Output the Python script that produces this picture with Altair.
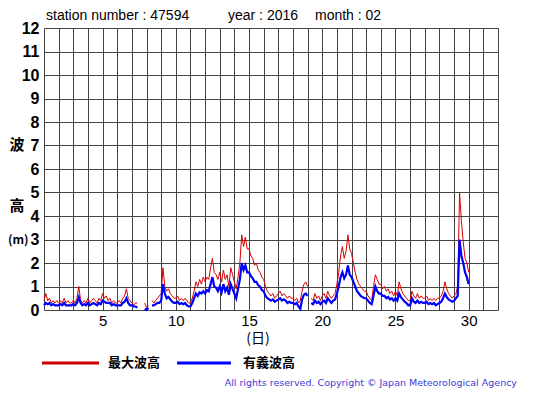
import altair as alt
import pandas as pd
import numpy as np

# 3-hourly readings (0,3,...,21h) per day, day 1..29, then day 30 00h
max_wave = [
    [0.4, 0.7, 0.4, 0.5, 0.3, 0.4, 0.3, 0.4],
    [0.3, 0.4, 0.3, 0.5, 0.3, 0.4, 0.3, 0.3],
    [0.4, 0.3, 0.5, 1.0, 0.4, 0.3, 0.4, 0.3],
    [0.5, 0.3, 0.4, 0.5, 0.4, 0.3, 0.5, 0.4],
    [0.7, 0.5, 0.6, 0.4, 0.5, 0.3, 0.4, 0.3],
    [0.3, 0.4, 0.3, 0.5, 0.6, 0.9, 0.5, 0.4],
    [0.3, 0.2, 0.3, 0.3, None, 0.3, None, 0.3],
    [0.1, 0.2, None, 0.4, 0.3, 0.4, 0.5, 0.6],
    [0.7, 1.8, 1.0, 0.8, 0.9, 0.7, 0.6, 0.5],
    [0.5, 0.6, 0.4, 0.5, 0.4, 0.5, 0.4, 0.3],
    [0.3, 0.5, 0.8, 1.2, 1.0, 1.3, 1.1, 1.4],
    [1.2, 1.4, 1.3, 1.8, 2.2, 1.6, 1.5, 1.3],
    [1.6, 1.2, 1.7, 1.3, 1.5, 1.0, 1.8, 1.5],
    [1.2, 0.9, 1.4, 2.0, 3.2, 2.7, 3.1, 2.6],
    [2.6, 2.3, 2.2, 1.9, 2.0, 1.7, 1.6, 1.4],
    [1.3, 1.0, 0.8, 0.7, 0.6, 0.7, 0.5, 0.6],
    [0.7, 0.8, 0.6, 0.7, 0.6, 0.5, 0.6, 0.5],
    [0.5, 0.4, 0.5, 0.3, 0.4, 0.8, 1.1, 1.2],
    [1.0, None, 0.5, 0.4, 0.7, 0.5, 0.6, 0.4],
    [0.6, 0.7, 0.5, 0.8, 0.6, 0.5, 0.6, 0.7],
    [1.1, 1.6, 2.3, 2.7, 2.2, 2.5, 3.2, 2.6],
    [2.4, 2.0, 1.6, 1.3, 1.1, 1.0, 0.9, 0.8],
    [0.8, 0.6, 0.5, 0.4, 1.0, 1.5, 1.3, 1.1],
    [1.1, 0.9, 1.0, 0.8, 0.9, 0.7, 0.8, 0.6],
    [0.8, 0.6, 1.2, 0.9, 0.7, 0.6, 0.5, 0.4],
    [0.4, 0.8, 0.6, 0.5, 0.7, 0.5, 0.6, 0.5],
    [0.5, 0.6, 0.4, 0.5, 0.4, 0.5, 0.4, 0.5],
    [0.5, 0.6, 0.8, 1.2, 0.9, 0.7, 0.6, 0.5],
    [0.6, 0.7, 1.0, 5.0, 3.8, 2.9, 2.2, 2.0],
    [1.6],
]

sig_wave = [
    [0.2, 0.3, 0.25, 0.3, 0.2, 0.25, 0.2, 0.2],
    [0.2, 0.25, 0.2, 0.3, 0.2, 0.2, 0.2, 0.2],
    [0.25, 0.2, 0.3, 0.55, 0.3, 0.2, 0.25, 0.2],
    [0.3, 0.2, 0.25, 0.3, 0.25, 0.2, 0.3, 0.25],
    [0.4, 0.35, 0.3, 0.3, 0.3, 0.2, 0.25, 0.2],
    [0.2, 0.2, 0.2, 0.3, 0.35, 0.5, 0.3, 0.2],
    [0.2, 0.15, 0.15, 0.1, None, 0.1, None, 0.05],
    [0.0, 0.1, None, 0.2, 0.2, 0.25, 0.3, 0.3],
    [0.4, 1.1, 0.7, 0.5, 0.55, 0.45, 0.35, 0.3],
    [0.3, 0.35, 0.25, 0.3, 0.25, 0.3, 0.2, 0.15],
    [0.15, 0.3, 0.5, 0.7, 0.6, 0.75, 0.7, 0.8],
    [0.7, 0.85, 0.8, 1.1, 1.4, 1.0, 0.95, 0.8],
    [1.0, 0.75, 1.1, 0.8, 0.95, 0.65, 1.1, 0.9],
    [0.7, 0.5, 0.9, 1.3, 2.0, 1.7, 1.9, 1.6],
    [1.6, 1.45, 1.35, 1.2, 1.2, 1.05, 1.0, 0.85],
    [0.8, 0.6, 0.5, 0.45, 0.4, 0.45, 0.35, 0.4],
    [0.45, 0.5, 0.4, 0.45, 0.4, 0.3, 0.35, 0.3],
    [0.3, 0.25, 0.3, 0.15, 0.05, 0.45, 0.65, 0.7],
    [0.6, None, 0.3, 0.25, 0.4, 0.3, 0.35, 0.25],
    [0.35, 0.4, 0.3, 0.5, 0.4, 0.3, 0.4, 0.45],
    [0.7, 1.0, 1.4, 1.6, 1.35, 1.5, 1.9, 1.5],
    [1.4, 1.2, 1.0, 0.8, 0.7, 0.6, 0.55, 0.5],
    [0.5, 0.4, 0.3, 0.25, 0.6, 1.0, 0.8, 0.7],
    [0.7, 0.6, 0.6, 0.5, 0.55, 0.45, 0.5, 0.4],
    [0.5, 0.4, 0.7, 0.55, 0.45, 0.35, 0.3, 0.2],
    [0.2, 0.5, 0.35, 0.3, 0.4, 0.3, 0.35, 0.3],
    [0.3, 0.35, 0.25, 0.3, 0.25, 0.3, 0.2, 0.25],
    [0.3, 0.35, 0.5, 0.7, 0.55, 0.45, 0.4, 0.35],
    [0.4, 0.5, 0.6, 3.0, 2.3, 2.0, 1.6, 1.4],
    [1.1],
]

hours = [0, 3, 6, 9, 12, 15, 18, 21]
x_ticks = list(range(1, 33))
y_ticks = list(range(0, 13))

rows = []
for di, (mrow, srow) in enumerate(zip(max_wave, sig_wave)):
    day = di + 1
    for hi, (m, s) in enumerate(zip(mrow, srow)):
        rows.append({"t": day + hours[hi] / 24.0,
                     "max": np.nan if m is None else m,
                     "sig": np.nan if s is None else s})
df = pd.DataFrame(rows)

W, H = 454, 282
JP = "Noto Sans CJK JP"
LAT = "Liberation Sans"

xs = alt.Scale(domain=[1, 32], nice=False, zero=False)
ys = alt.Scale(domain=[0, 12], nice=False)

xaxis = alt.Axis(values=x_ticks, labelExpr="datum.value % 5 == 0 ? datum.label : ''",
                 grid=True, gridColor="#444444", gridWidth=1, gridOpacity=1,
                 ticks=False, domain=False, title=None, labelFont=LAT,
                 labelFontSize=15, labelColor="black", labelPadding=3,
                 labelFlush=False, labelOverlap=False)
yaxis = alt.Axis(values=y_ticks, grid=True, gridColor="#444444", gridWidth=1,
                 gridOpacity=1, ticks=False, domain=False, title=None,
                 labelFont=LAT, labelFontSize=16, labelFontWeight="bold",
                 labelColor="black", labelPadding=5, labelFlush=False,
                 labelOverlap=False)

base = alt.Chart(df)
red = base.mark_line(color="#d40000", strokeWidth=1,
                     invalid="break-paths-show-domains").encode(
    x=alt.X("t:Q", scale=xs, axis=xaxis),
    y=alt.Y("max:Q", scale=ys, axis=yaxis),
)
blue = base.mark_line(color="#0000ff", strokeWidth=2.2,
                      invalid="break-paths-show-domains").encode(
    x=alt.X("t:Q", scale=xs, axis=xaxis),
    y=alt.Y("sig:Q", scale=ys, axis=yaxis),
)


def txt(s, x, y, size=13, font=LAT, weight="normal", color="black", align="left"):
    return alt.Chart(pd.DataFrame({"s": [s]})).mark_text(
        font=font, fontSize=size, fontWeight=weight, color=color,
        align=align, baseline="middle").encode(
        x=alt.value(x), y=alt.value(y), text="s:N")


def seg(x1, x2, y, color):
    return alt.Chart(pd.DataFrame({"a": [0]})).mark_rule(
        color=color, strokeWidth=3).encode(
        x=alt.value(x1), x2=alt.value(x2), y=alt.value(y))


ox, oy = 44, 28
layers = [
    red, blue,
    txt("station number : 47594", 46 - ox, 16 - oy, size=14),
    txt("year : 2016", 228 - ox, 16 - oy, size=14),
    txt("month : 02", 315 - ox, 16 - oy, size=14),
    txt("波", 17 - ox, 145 - oy, size=15, font=JP, weight="bold", align="center"),
    txt("高", 17 - ox, 206 - oy, size=15, font=JP, weight="bold", align="center"),
    txt("(m)", 8 - ox, 240 - oy, size=12, font=JP, weight="bold", align="left"),
    txt("(日)", 258 - ox, 339 - oy, size=14, font=JP, align="center"),
    seg(42 - ox, 99 - ox, 363 - oy, "#cc0000"),
    txt("最大波高", 108 - ox, 363 - oy, size=13, font=JP, weight="bold"),
    seg(177 - ox, 231 - ox, 363 - oy, "#0000ff"),
    txt("有義波高", 243 - ox, 363 - oy, size=13, font=JP, weight="bold"),
    txt("All rights reserved. Copyright © Japan Meteorological Agency",
        517 - ox, 383 - oy, size=9.5, font="DejaVu Sans", color="#3c3cd8",
        align="right"),
]

chart = alt.layer(*layers).properties(
    width=W, height=H,
    autosize=alt.AutoSizeParams(type="none"),
    padding={"left": 36, "top": 20, "right": 49, "bottom": 84},
).configure_view(stroke="black", strokeWidth=1.5).configure(background="white")

chart.save("out.html", embed_options={"renderer": "svg", "actions": False})
